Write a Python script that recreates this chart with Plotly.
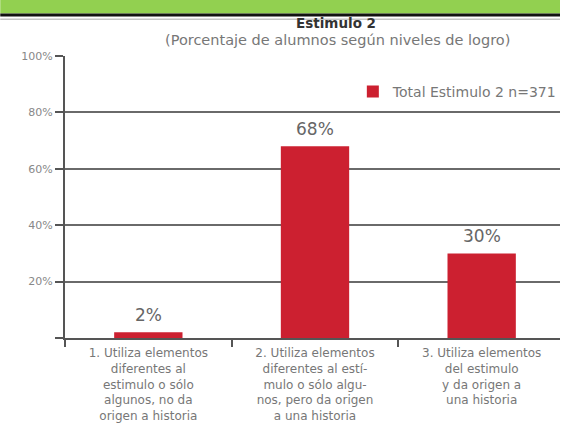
import plotly.graph_objects as go

categories = [
    "1. Utiliza elementos<br>diferentes al<br>estimulo o sólo<br>algunos, no da<br>origen a historia",
    "2. Utiliza elementos<br>diferentes al estí-<br>mulo o sólo algu-<br>nos, pero da origen<br>a una historia",
    "3. Utiliza elementos<br>del estimulo<br>y da origen a<br>una historia",
]
values = [2, 68, 30]
series_name = "Total Estimulo 2 n=371"
y_tickvals = [0, 20, 40, 60, 80, 100]
y_ticktext = ["", "20%", "40%", "60%", "80%", "100%"]

W, H = 562, 437
ML, MR, MT, MB = 65, 0, 56, 99
PW, PH = W - ML - MR, H - MT - MB

def px_x(x):
    return (x - ML) / PW

def px_y(y):
    return (H - MB - y) / PH

FONT = "DejaVu Sans"
GRAY = "#777"
RED = "#cc2030"

fig = go.Figure()
fig.add_trace(go.Bar(
    x=categories, y=values, name=series_name,
    marker=dict(color=RED, line=dict(width=0)),
    width=0.41, showlegend=True,
))

for c, v in zip(categories, values):
    fig.add_annotation(x=c, y=v, text=f"{v}%", showarrow=False,
                       yanchor="bottom", yshift=5,
                       font=dict(family=FONT, size=17, color="#666"))

# Titles
fig.add_annotation(xref="paper", yref="paper", x=px_x(337), y=px_y(23),
                   xanchor="center", yanchor="middle",
                   text="<b>Estimulo 2</b>", showarrow=False,
                   font=dict(family=FONT, size=13.5, color="#333"))
fig.add_annotation(xref="paper", yref="paper", x=px_x(339), y=px_y(40),
                   xanchor="center", yanchor="middle",
                   text="(Porcentaje de alumnos según niveles de logro)", showarrow=False,
                   font=dict(family=FONT, size=14.5, color="#777"))

# Decorative page band (pixel offsets measured up from the top of the plot area)
def band(top_px, bottom_px, color):
    fig.add_shape(type="rect", xref="paper", yref="paper",
                  x0=px_x(0), x1=px_x(W),
                  ysizemode="pixel", yanchor=1,
                  y0=MT - bottom_px, y1=MT - top_px,
                  fillcolor=color, line=dict(width=0), layer="above")

band(0, 13.5, "#92d050")
band(13.5, 16.5, "#111111")
band(18.5, 20, "#c4c4c4")

fig.update_layout(
    width=W, height=H,
    margin=dict(l=ML, r=MR, t=MT, b=MB, pad=0),
    paper_bgcolor="white", plot_bgcolor="white",
    font=dict(family=FONT, color=GRAY),
    legend=dict(x=px_x(354), y=px_y(92), xanchor="left", yanchor="middle",
                font=dict(family=FONT, size=14, color="#777"),
                bgcolor="rgba(0,0,0,0)"),
    showlegend=True,
    bargap=0.59,
)
fig.update_xaxes(
    type="category", range=[-0.5, 2.47],
    showline=True, linecolor="#555", linewidth=2,
    ticks="outside", tickson="boundaries", ticklen=7, tickcolor="#555", tickwidth=2,
    tickfont=dict(family=FONT, size=12, color="#777"),
    ticklabelstandoff=3,
    showgrid=False,
)
fig.update_yaxes(
    range=[0, 100], tickvals=y_tickvals, ticktext=y_ticktext,
    showline=True, linecolor="#555", linewidth=2,
    ticks="outside", ticklen=8, tickcolor="#555", tickwidth=2,
    showgrid=True, gridcolor="#6a6a6a", gridwidth=1.5,
    zeroline=False,
    tickfont=dict(family=FONT, size=11, color="#888"),
)

fig.write_html(
    "out.html",
    config={"displayModeBar": False},
    post_script="document.body.style.margin='0';document.body.style.overflow='hidden';",
)
